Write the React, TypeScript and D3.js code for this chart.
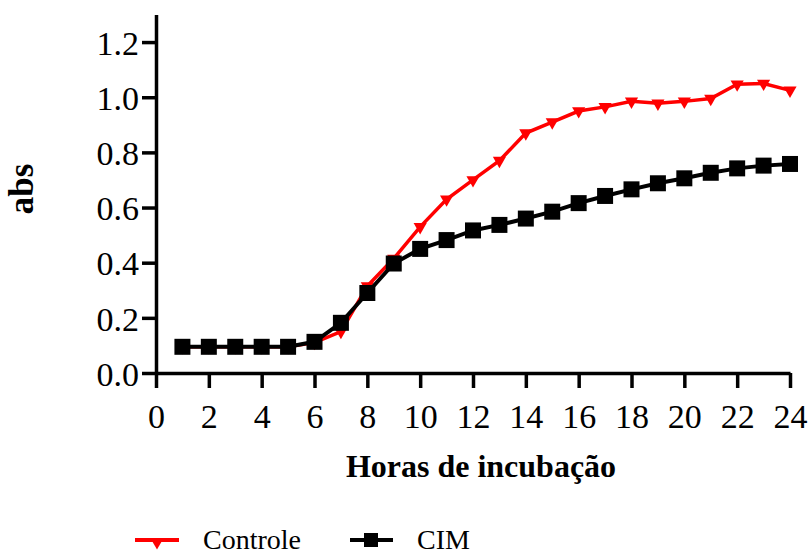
import { useEffect, useRef } from "react";
import * as d3 from "d3";

const hours = [1, 2, 3, 4, 5, 6, 7, 8, 9, 10, 11, 12, 13, 14, 15, 16, 17, 18, 19, 20, 21, 22, 23, 24];
const controle = [0.095, 0.095, 0.095, 0.095, 0.095, 0.11, 0.15, 0.315, 0.415, 0.53, 0.63, 0.70, 0.77, 0.87, 0.91, 0.95, 0.965, 0.985, 0.978, 0.985, 0.995, 1.047, 1.05, 1.025];
const cim = [0.095, 0.095, 0.095, 0.095, 0.095, 0.113, 0.182, 0.29, 0.397, 0.45, 0.482, 0.517, 0.537, 0.56, 0.585, 0.616, 0.642, 0.666, 0.688, 0.706, 0.726, 0.742, 0.752, 0.758];
const xTicks = [0, 2, 4, 6, 8, 10, 12, 14, 16, 18, 20, 22, 24];
const yTicks = [0, 0.2, 0.4, 0.6, 0.8, 1.0, 1.2];
const seriesNames = ["Controle", "CIM"];

const font = "'Liberation Serif', 'Times New Roman', serif";

export default function App() {
  const width = 811;
  const height = 555;
  const gx = useRef<SVGGElement>(null);
  const gy = useRef<SVGGElement>(null);

  const x = d3.scaleLinear().domain([0, 24]).range([156, 790]);
  const y = d3.scaleLinear().domain([0, 1.3]).range([373, 14.5]);
  const line = d3.line<number>().x((d, i) => x(hours[i])).y((d) => y(d));

  const tri = d3.symbol().type(d3.symbolTriangle).size(75)();
  const sq = d3.symbol().type(d3.symbolSquare).size(256)();
  const sqSmall = d3.symbol().type(d3.symbolSquare).size(196)();

  useEffect(() => {
    const g = d3.select(gx.current);
    g.call(d3.axisBottom(x).tickValues(xTicks).tickSize(15).tickSizeOuter(0).tickPadding(16).tickFormat(d3.format("d")) as any);
    g.select(".domain").attr("stroke-width", 3.5);
    g.selectAll(".tick line").attr("stroke-width", 3.5);
    g.selectAll(".tick text").attr("font-size", 34).attr("font-family", font).attr("fill", "#000");
  }, []);

  useEffect(() => {
    const g = d3.select(gy.current);
    g.call(d3.axisLeft(y).tickValues(yTicks).tickSize(14).tickSizeOuter(0).tickPadding(3).tickFormat(d3.format(".1f")) as any);
    g.select(".domain").attr("stroke-width", 3.5);
    g.selectAll(".tick line").attr("stroke-width", 3.5);
    g.selectAll(".tick text").attr("font-size", 34).attr("font-family", font).attr("fill", "#000").attr("dy", "0.36em");
  }, []);

  return (
    <svg width={width} height={height} style={{ position: "absolute", left: 0, top: 0, background: "#fff" }}>
      <g ref={gx} transform={`translate(0,${y(0)})`} />
      <g ref={gy} transform={`translate(${x(0)},0)`} />

      <path d={line(controle) || ""} fill="none" stroke="#ff0000" strokeWidth={3.5} />
      <g fill="#ff0000">
        {controle.map((d, i) => (
          <path key={i} d={tri || ""} transform={`translate(${x(hours[i])},${y(d)}) rotate(180)`} />
        ))}
      </g>
      <path d={line(cim) || ""} fill="none" stroke="#000" strokeWidth={4} />
      <g fill="#000">
        {cim.map((d, i) => (
          <path key={i} d={sq || ""} transform={`translate(${x(hours[i])},${y(d)})`} />
        ))}
      </g>

      <text x={481} y={477} textAnchor="middle" fontFamily={font} fontWeight="bold" fontSize={32}>
        Horas de incubação
      </text>
      <text transform="translate(33,189) rotate(-90)" textAnchor="middle" fontFamily={font} fontWeight="bold" fontSize={35}>
        abs
      </text>

      <g fontFamily={font} fontSize={28}>
        <line x1={135} x2={179} y1={540} y2={540} stroke="#ff0000" strokeWidth={4} />
        <path d={tri || ""} transform="translate(157,542) rotate(180)" fill="#ff0000" />
        <text x={203} y={549}>{seriesNames[0]}</text>
        <line x1={350} x2={393} y1={540} y2={540} stroke="#000" strokeWidth={4} />
        <path d={sqSmall || ""} transform="translate(371,540)" fill="#000" />
        <text x={417} y={549}>{seriesNames[1]}</text>
      </g>
    </svg>
  );
}
